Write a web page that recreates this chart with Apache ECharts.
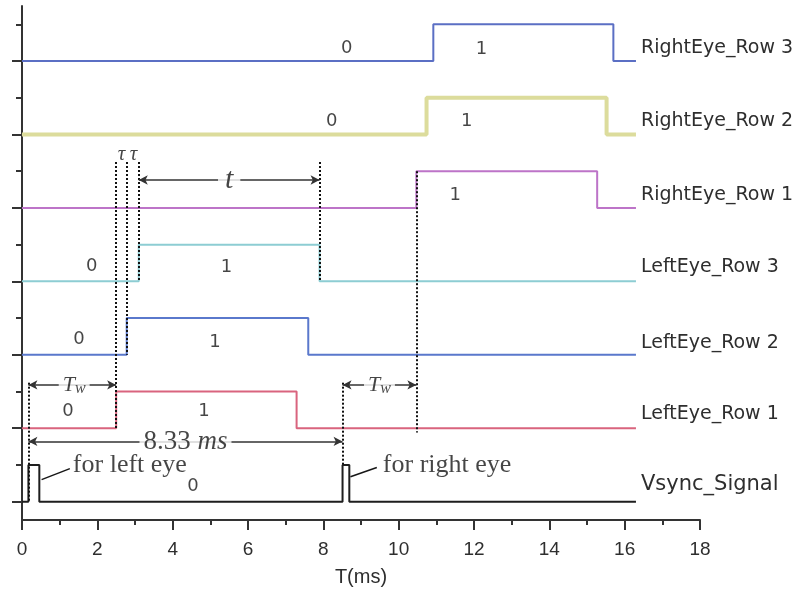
<!DOCTYPE html>
<html>
<head>
<meta charset="utf-8">
<script src="https://cdn.jsdelivr.net/npm/echarts@6/dist/echarts.min.js"></script>
<style>
  html, body { margin: 0; padding: 0; background: #ffffff; }
  #chart { width: 800px; height: 598px; }
</style>
</head>
<body>
<div id="chart"></div>
<script>
// Switching instants (ms) of each signal and the logic level held from each instant on
const vsyncTimes     = [0, 0.17, 0.46, 8.51, 8.69, 16.3];
const vsyncLevels    = [0, 1, 0, 1, 0, 0];
const leftRow1Times  = [0, 2.5, 7.29, 16.3];
const leftRow2Times  = [0, 2.78, 7.6, 16.3];
const leftRow3Times  = [0, 3.1, 7.9, 16.3];
const rightRow1Times = [0, 10.47, 15.27, 16.3];
const rightRow2Times = [0, 10.74, 15.52, 16.3];
const rightRow3Times = [0, 10.92, 15.7, 16.3];
const rowLevels      = [0, 1, 0, 0];

// Names, bottom row first
const rowNames = ['Vsync_Signal', 'LeftEye_Row 1', 'LeftEye_Row 2', 'LeftEye_Row 3',
                  'RightEye_Row 1', 'RightEye_Row 2', 'RightEye_Row 3'];

// Time axis ticks (ms)
const timeTicks = [0, 2, 4, 6, 8, 10, 12, 14, 16, 18];
const framePeriod = '8.33';

// ---------------------------------------------------------------------------
const rows = [
  { times: vsyncTimes,     levels: vsyncLevels },
  { times: leftRow1Times,  levels: rowLevels },
  { times: leftRow2Times,  levels: rowLevels },
  { times: leftRow3Times,  levels: rowLevels },
  { times: rightRow1Times, levels: rowLevels },
  { times: rightRow2Times, levels: rowLevels },
  { times: rightRow3Times, levels: rowLevels }
];
const rowLook = [
  { color: '#1e1e1e', width: 2, labelSize: 21, labelLift: -17 },
  { color: '#d9647e', width: 2, labelSize: 19, labelLift: -14 },
  { color: '#5a78cc', width: 2, labelSize: 19, labelLift: -12 },
  { color: '#8dcdd3', width: 2, labelSize: 19, labelLift: -14 },
  { color: '#bd74c8', width: 2, labelSize: 19, labelLift: -13 },
  { color: '#dcdc9c', width: 4, labelSize: 19, labelLift: -13 },
  { color: '#5b6fc4', width: 2, labelSize: 19, labelLift: -13 }
];
const ROW_STEP = 2;            // each row sits two units above the previous one
const base = i => i * ROW_STEP;

const SANS = 'DejaVu Sans';
const SERIF = 'Liberation Serif';
const INK = '#161616';

const signalSeries = rows.map((r, i) => ({
  type: 'line',
  name: rowNames[i],
  step: 'end',
  symbol: 'none',
  silent: true,
  z: 3,
  data: r.times.map((t, k) => [t, base(i) + r.levels[k]]),
  lineStyle: { color: rowLook[i].color, width: rowLook[i].width },
  endLabel: {
    show: true,
    formatter: rowNames[i],
    distance: 5,
    offset: [0, rowLook[i].labelLift],
    fontFamily: SANS,
    fontSize: rowLook[i].labelSize,
    color: '#2e2e2e'
  }
}));

// "0" / "1" state captions: [row, level text, time, height above the row base]
const stateCaptions = [
  [6, '0', 8.62, 0.35], [6, '1', 12.2, 0.33],
  [5, '0', 8.22, 0.35], [5, '1', 11.81, 0.35],
  [4, '1', 11.5, 0.35],
  [3, '0', 1.85, 0.4],  [3, '1', 5.43, 0.39],
  [2, '0', 1.51, 0.41], [2, '1', 5.12, 0.35],
  [1, '0', 1.22, 0.46], [1, '1', 4.83, 0.45],
  [0, '0', 4.54, 0.41]
];

const rise = (times) => times[1];
const fall = (times) => times[2];

// guide lines and dimension arrows
const dotted = { color: '#111111', width: 2, type: [2, 2] };
const arrowLine = { color: '#333333', width: 1.5, type: 'solid' };
function vGuide(x, y0, y1) {
  return [
    { coord: [x, y0], symbol: 'none', lineStyle: dotted },
    { coord: [x, y1], symbol: 'none' }
  ];
}
function arrow(x0, x1, y) {
  return [
    { coord: [x0, y], symbol: 'arrow', symbolSize: [7, 9], lineStyle: arrowLine },
    { coord: [x1, y], symbol: 'arrow', symbolSize: [7, 9] }
  ];
}
const GUIDE_TOP = 9.25;
const TW_Y = 3.18;
const PERIOD_Y = 1.64;
const T_Y = 8.76;

const leaderStyle = { color: INK, width: 1.5, type: 'solid' };
const markLines = [
  vGuide(rise(leftRow1Times), GUIDE_TOP, base(1)),
  vGuide(rise(leftRow2Times), GUIDE_TOP, base(2)),
  vGuide(rise(leftRow3Times), GUIDE_TOP, base(3)),
  vGuide(fall(leftRow3Times), GUIDE_TOP, base(3)),
  vGuide(vsyncTimes[1], 3.24, base(0)),
  vGuide(vsyncTimes[3], 3.24, base(0) + 1),
  vGuide(rise(rightRow1Times), base(4) + 1, 1.88),
  arrow(rise(leftRow3Times), fall(leftRow3Times), T_Y),
  arrow(vsyncTimes[1], rise(leftRow1Times), TW_Y),
  arrow(vsyncTimes[3], rise(rightRow1Times), TW_Y),
  arrow(vsyncTimes[1], vsyncTimes[3], PERIOD_Y),
  // leaders from the sync pulses to their captions
  [{ coord: [0.52, 0.6], symbol: 'none', lineStyle: leaderStyle }, { coord: [1.27, 0.9], symbol: 'none' }],
  [{ coord: [8.72, 0.68], symbol: 'none', lineStyle: leaderStyle }, { coord: [9.42, 0.93], symbol: 'none' }]
];

const guideSeries = {
  type: 'scatter',
  symbolSize: 0,
  silent: true,
  z: 4,
  data: [],
  markLine: {
    silent: true,
    animation: false,
    symbol: 'none',
    precision: 3,
    label: { show: false },
    data: markLines
  }
};

// free text: captions on the arrows (white box cuts a gap in the arrow) and notes
function note(x, y, text, opts) {
  return {
    value: [x, y],
    label: Object.assign({ show: true, formatter: text, color: INK }, opts)
  };
}
const mid = (a, b) => (a + b) / 2;
const gap = { position: 'inside', backgroundColor: '#ffffff', padding: [0, 4] };
const twRich = {
  t: { fontFamily: SERIF, fontStyle: 'italic', fontSize: 22, color: INK },
  w: { fontFamily: SERIF, fontStyle: 'italic', fontSize: 16, color: INK, padding: [7, 0, 0, 0] }
};
const notes = [
  note(mid(rise(leftRow3Times), fall(leftRow3Times)), T_Y, '{v|t}', Object.assign({
    rich: { v: { fontFamily: SERIF, fontStyle: 'italic', fontSize: 30, color: INK } }
  }, gap, { padding: [0, 7] })),
  note(mid(vsyncTimes[1], rise(leftRow1Times)) + 0.05, TW_Y, '{t|T}{w|w}', Object.assign({ rich: twRich }, gap)),
  note(mid(vsyncTimes[3], rise(rightRow1Times)), TW_Y, '{t|T}{w|w}', Object.assign({ rich: twRich }, gap)),
  note(mid(vsyncTimes[1], vsyncTimes[3]), PERIOD_Y, '{n|' + framePeriod + ' }{u|ms}', Object.assign({
    rich: {
      n: { fontFamily: SERIF, fontSize: 27, color: INK },
      u: { fontFamily: SERIF, fontStyle: 'italic', fontSize: 27, color: INK }
    }
  }, gap)),
  note(2.64, 9.45, 'τ', { position: 'inside', fontFamily: SERIF, fontStyle: 'italic', fontSize: 21 }),
  note(2.96, 9.45, 'τ', { position: 'inside', fontFamily: SERIF, fontStyle: 'italic', fontSize: 21 }),
  note(1.35, 0.98, 'for left eye', { position: 'right', distance: 0, fontFamily: SERIF, fontSize: 26 }),
  note(9.58, 0.98, 'for right eye', { position: 'right', distance: 0, fontFamily: SERIF, fontSize: 26 })
];

const captionData = stateCaptions.map(c => ({
  value: [c[2], base(c[0]) + c[3]],
  label: { show: true, formatter: c[1], position: 'inside', fontFamily: SANS, fontSize: 18, color: INK }
}));

const textSeries = {
  type: 'scatter',
  symbolSize: 0,
  silent: true,
  z: 20,
  data: captionData.concat(notes)
};

const chart = echarts.init(document.getElementById('chart'), null, { renderer: 'canvas' });
chart.setOption({
  animation: false,
  backgroundColor: '#ffffff',
  grid: { left: 22, right: 100, top: 6, bottom: 78, containLabel: false },
  xAxis: {
    type: 'value',
    min: timeTicks[0],
    max: timeTicks[timeTicks.length - 1],
    interval: timeTicks[1] - timeTicks[0],
    name: 'T(ms)',
    nameLocation: 'middle',
    nameGap: 47,
    nameTextStyle: { fontFamily: 'Liberation Sans', fontSize: 20, color: '#2e2e2e' },
    axisLine: { show: true, onZero: false, lineStyle: { color: '#333', width: 2 } },
    axisTick: { show: true, length: 10, inside: false, lineStyle: { color: '#333', width: 2 } },
    minorTick: { show: true, splitNumber: 2, length: 5, lineStyle: { color: '#333', width: 2 } },
    axisLabel: {
      margin: 20, fontFamily: 'Liberation Sans', fontSize: 19, color: '#2e2e2e',
      formatter: v => String(v)
    },
    splitLine: { show: false }
  },
  yAxis: [
    {
      type: 'value', min: -0.5, max: 13.5,
      axisLine: { show: true, onZero: false, lineStyle: { color: '#333', width: 2 } },
      axisTick: { show: true, length: 10, customValues: [0, 2, 4, 6, 8, 10, 12], lineStyle: { color: '#333', width: 2 } },
      axisLabel: { show: false },
      splitLine: { show: false }
    },
    {
      type: 'value', min: -0.5, max: 13.5, position: 'left',
      axisLine: { show: false },
      axisTick: { show: true, length: 6, customValues: [1, 3, 5, 7, 9, 11, 13], lineStyle: { color: '#333', width: 2 } },
      axisLabel: { show: false },
      splitLine: { show: false }
    }
  ],
  series: signalSeries.concat([guideSeries, textSeries])
});
</script>
</body>
</html>
